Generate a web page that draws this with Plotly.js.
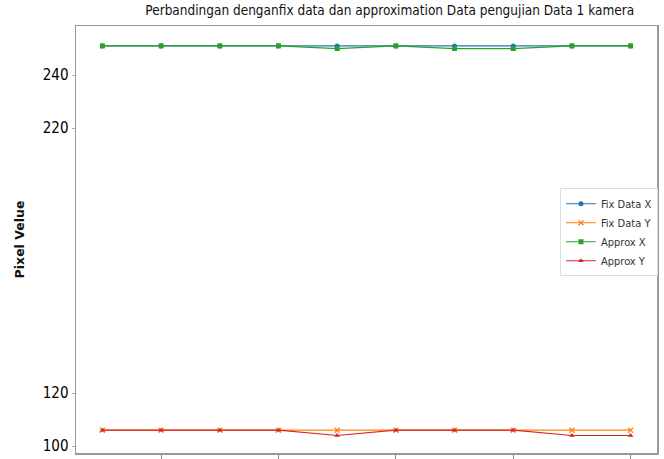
<!DOCTYPE html>
<html>
<head>
<meta charset="utf-8">
<script src="https://cdn.plot.ly/plotly-3.0.1.min.js"></script>
<style>html,body{margin:0;padding:0;background:#fff;}#chart{width:664px;height:459px;}</style>
</head>
<body>
<div id="chart"></div>
<script>
const xIndex = [0, 1, 2, 3, 4, 5, 6, 7, 8, 9];
const fixDataX = [251, 251, 251, 251, 251, 251, 251, 251, 251, 251];
const fixDataY = [106, 106, 106, 106, 106, 106, 106, 106, 106, 106];
const approxX  = [251, 251, 251, 251, 250, 251, 250, 250, 251, 251];
const approxY  = [106, 106, 106, 106, 104, 106, 106, 106, 104, 104];
const yTicks = [100, 120, 220, 240];
const xTicks = [1, 3, 5, 7, 9];

const fontN = "Liberation Sans Narrow, DejaVu Sans Condensed, Arial Narrow, sans-serif";

function tr(name, y, color, symbol) {
  return {
    x: xIndex, y: y, name: name, type: 'scatter', mode: 'lines+markers',
    line: {color: color, width: 1.2},
    marker: {color: color, symbol: symbol, size: 5}
  };
}

const data = [
  tr('Fix Data X', fixDataX, '#1f77b4', 'circle'),
  tr('Fix Data Y', fixDataY, '#ff7f0e', 'x-thin-open'),
  tr('Approx X', approxX, '#2ca02c', 'square'),
  tr('Approx Y', approxY, '#d62728', 'triangle-up')
];
data[1].marker.line = {color: '#ff7f0e', width: 1.2};

const layout = {
  width: 664, height: 459,
  margin: {l: 76, r: 7, t: 26, b: 6},
  paper_bgcolor: '#fff', plot_bgcolor: '#fff',
  title: {text: 'Perbandingan denganfix data dan approximation Data pengujian Data 1 kamera',
          font: {family: fontN, size: 13.5, color: '#111'}, x: 0.587, xanchor: 'center', y: 0.988, yanchor: 'top'},
  xaxis: {range: [-0.45, 9.45], tickvals: xTicks, showticklabels: false, ticks: 'outside', ticklen: 4,
          tickcolor: '#888', showgrid: false, zeroline: false, showline: true, linecolor: '#999', linewidth: 1.5, mirror: true},
  yaxis: {range: [97.4, 258.5], tickvals: yTicks, ticks: 'outside', ticklen: 3, tickcolor: '#aaa',
          showgrid: false, zeroline: false, showline: true, linecolor: '#999', linewidth: 1.5, mirror: true,
          tickfont: {family: fontN, size: 15, color: '#000'},
          title: {text: '<b>Pixel Velue</b>', font: {family: 'DejaVu Sans, sans-serif', size: 12.5, color: '#111'}, standoff: 15}},
  legend: {x: 0.833, y: 0.62, xanchor: 'left', yanchor: 'top', bgcolor: '#fff', bordercolor: '#ddd', borderwidth: 1,
           font: {family: fontN, size: 11, color: '#333'}, tracegroupgap: 0, itemwidth: 30},
  showlegend: true
};

Plotly.newPlot('chart', data, layout, {displayModeBar: false, staticPlot: true});
</script>
</body>
</html>
